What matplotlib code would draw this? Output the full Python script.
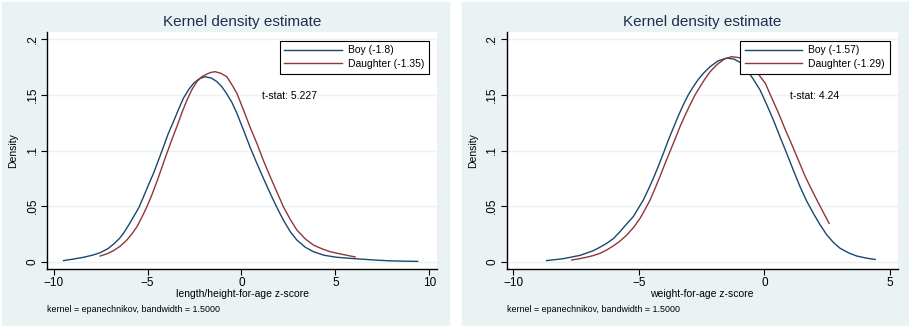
"""Kernel density comparison: boys vs daughters, two z-score panels (Stata s2color look)."""

import matplotlib.pyplot as plt
from matplotlib.patches import Rectangle

# ---- data ----
# left panel: length/height-for-age z-score
haz_boy_x = [-9.47, -8.9, -8.40, -7.9, -7.52, -7.1, -6.81, -6.5, -6.28, -6.0,
             -5.74, -5.45, -5.21, -4.95, -4.68, -4.4, -4.15, -3.9, -3.62, -3.35,
             -3.09, -2.8, -2.55, -2.25, -1.93, -1.6, -1.31, -1.05, -0.78, -0.5,
             -0.24, 0.11, 0.46, 0.82, 1.17, 1.53, 1.88, 2.23, 2.6, 2.95,
             3.4, 3.83, 4.4, 5.07, 5.8, 6.49, 7.2, 7.91, 8.6, 9.38]
haz_boy_y = [0.001, 0.0025, 0.004, 0.006, 0.0081, 0.0118, 0.0158, 0.0208, 0.0255, 0.033,
             0.0405, 0.049, 0.0585, 0.069, 0.0795, 0.092, 0.1034, 0.115, 0.1259, 0.137,
             0.147, 0.155, 0.1604, 0.1645, 0.1664, 0.1652, 0.162, 0.1575, 0.151, 0.143,
             0.1334, 0.1184, 0.103, 0.0885, 0.075, 0.0615, 0.049, 0.0375, 0.027, 0.0195,
             0.013, 0.009, 0.0058, 0.004, 0.003, 0.0022, 0.0014, 0.0008, 0.0005, 0.0003]
haz_dau_x = [-7.52, -7.15, -6.81, -6.45, -6.10, -5.83, -5.56, -5.3, -5.03, -4.77,
             -4.50, -4.23, -3.97, -3.7, -3.44, -3.17, -2.90, -2.63, -2.37, -2.1,
             -1.84, -1.62, -1.40, -1.1, -0.78, -0.5, -0.24, 0.11, 0.46, 0.82,
             1.17, 1.53, 1.88, 2.23, 2.6, 2.95, 3.4, 3.83, 4.3, 4.72,
             5.4, 6.05]
haz_dau_y = [0.0051, 0.0072, 0.0099, 0.014, 0.0195, 0.025, 0.0315, 0.04, 0.0495, 0.06,
             0.072, 0.085, 0.0975, 0.11, 0.1214, 0.134, 0.1454, 0.155, 0.162, 0.1665,
             0.1688, 0.1703, 0.1709, 0.1695, 0.1664, 0.159, 0.1514, 0.1364, 0.121, 0.1065,
             0.091, 0.0765, 0.063, 0.0495, 0.038, 0.0285, 0.0205, 0.015, 0.0115, 0.009,
             0.0065, 0.0043]

# right panel: weight-for-age z-score
waz_boy_x = [-8.67, -8.01, -7.34, -6.81, -6.55, -6.28, -6.0, -5.75, -5.5, -5.22,
             -4.82, -4.62, -4.42, -4.22, -4.02, -3.83, -3.63, -3.43, -3.23, -3.03,
             -2.83, -2.63, -2.43, -2.16, -1.85, -1.50, -1.2, -0.95, -0.70, -0.45,
             -0.17, 0.1, 0.36, 0.62, 0.89, 1.15, 1.42, 1.68, 1.95, 2.22,
             2.49, 2.75, 3.02, 3.35, 3.68, 4.05, 4.41]
waz_boy_y = [0.001, 0.0027, 0.0057, 0.0099, 0.013, 0.0165, 0.021, 0.027, 0.0335, 0.0405,
             0.0555, 0.065, 0.075, 0.086, 0.0975, 0.109, 0.12, 0.131, 0.141, 0.15,
             0.1574, 0.164, 0.1694, 0.1754, 0.1805, 0.1832, 0.1822, 0.179, 0.1724, 0.1645,
             0.1544, 0.141, 0.1274, 0.1125, 0.0975, 0.0825, 0.0675, 0.0548, 0.0435, 0.0332,
             0.024, 0.0173, 0.012, 0.008, 0.0051, 0.0033, 0.002]
waz_dau_x = [-7.67, -7.37, -7.08, -6.8, -6.55, -6.28, -6.02, -5.75, -5.48, -5.2,
             -4.95, -4.75, -4.55, -4.35, -4.16, -3.96, -3.76, -3.56, -3.36, -3.16,
             -2.96, -2.76, -2.56, -2.36, -2.16, -1.9, -1.6, -1.30, -1.0, -0.75,
             -0.50, -0.23, 0.04, 0.3, 0.57, 0.83, 1.10, 1.37, 1.63, 1.9,
             2.16, 2.38, 2.58]
waz_dau_y = [0.0015, 0.0027, 0.004, 0.0056, 0.0075, 0.0105, 0.0141, 0.0185, 0.024, 0.031,
             0.039, 0.047, 0.0555, 0.066, 0.0765, 0.088, 0.099, 0.11, 0.1214, 0.1315,
             0.141, 0.15, 0.1574, 0.1645, 0.1709, 0.177, 0.1822, 0.1844, 0.1835, 0.1805,
             0.1754, 0.1685, 0.1604, 0.147, 0.1334, 0.119, 0.105, 0.0905, 0.0765, 0.064,
             0.0525, 0.043, 0.0345]

panels = [
    dict(bx=haz_boy_x, by=haz_boy_y, dx=haz_dau_x, dy=haz_dau_y,
         labels=["Boy (-1.8)", "Daughter (-1.35)"], tstat="t-stat: 5.227", tpos=(1.08, 0.149),
         xlabel="length/height-for-age z-score", xticks=[-10, -5, 0, 5, 10],
         xlim=(-10.35, 10.41)),
    dict(bx=waz_boy_x, by=waz_boy_y, dx=waz_dau_x, dy=waz_dau_y,
         labels=["Boy (-1.57)", "Daughter (-1.29)"], tstat="t-stat: 4.24", tpos=(1.02, 0.149),
         xlabel="weight-for-age z-score", xticks=[-10, -5, 0, 5],
         xlim=(-10.26, 5.31)),
]
yticks = [0, 0.05, 0.1, 0.15, 0.2]
ytick_labels = ["0", ".05", ".1", ".15", ".2"]

NAVY = "#1a476f"
MAROON = "#90353b"
BG = "#eaf2f3"

W, H = 909, 326
fig = plt.figure(figsize=(W / 100, H / 100), dpi=100)
plt.rcParams["font.family"] = ["Liberation Sans", "DejaVu Sans"]

# panel backgrounds (pixel boxes: x0, x1)
for x0, x1 in [(2, 449), (462, 909)]:
    fig.patches.append(Rectangle((x0 / W, 0.0), (x1 - x0) / W, 1 - 2 / H,
                                 transform=fig.transFigure, color=BG, zorder=-10))

axes_px = [(47, 437), (506.7, 897.7)]
top_px, bot_px = 32, 269

for (l, r), p in zip(axes_px, panels):
    ax = fig.add_axes([l / W, 1 - bot_px / H, (r - l) / W, (bot_px - top_px) / H])
    ax.set_facecolor("white")
    ax.plot(p["bx"], p["by"], color=NAVY, lw=1.0, label=p["labels"][0])
    ax.plot(p["dx"], p["dy"], color=MAROON, lw=1.0, label=p["labels"][1])
    ax.set_xlim(*p["xlim"])
    ax.set_ylim(-0.00656, 0.2066)
    ax.set_yticks(yticks)
    ax.set_yticklabels(ytick_labels, rotation=90, va="center")
    ax.set_xticks(p["xticks"])
    ax.tick_params(labelsize=8.5, length=4, width=0.8, direction="out", pad=2)
    ax.grid(True, axis="y", color=BG, lw=1.0)
    ax.set_axisbelow(True)
    for s in ["top", "right"]:
        ax.spines[s].set_visible(False)
    for s in ["left", "bottom"]:
        ax.spines[s].set_linewidth(1.0)
    ax.set_title("Kernel density estimate", fontsize=11, color="#1e2f4f", pad=4)
    ax.set_xlabel(p["xlabel"], fontsize=7.5, labelpad=0)
    ax.set_ylabel("Density", fontsize=7.5, labelpad=6)
    ax.text(p["tpos"][0], p["tpos"][1], p["tstat"], fontsize=7.5, va="center", ha="left")
    leg = ax.legend(loc="upper right", bbox_to_anchor=(0.993, 0.985), fontsize=7.5,
                    frameon=True, fancybox=False, edgecolor="black", framealpha=1,
                    handlelength=5.5, handletextpad=0.6, borderpad=0.45, labelspacing=0.35)
    leg.get_frame().set_linewidth(0.8)
    ax.text(0.0, -0.172, "kernel = epanechnikov, bandwidth = 1.5000", transform=ax.transAxes,
            fontsize=6.4, ha="left", va="center")

fig.savefig("out.png", dpi=100)
